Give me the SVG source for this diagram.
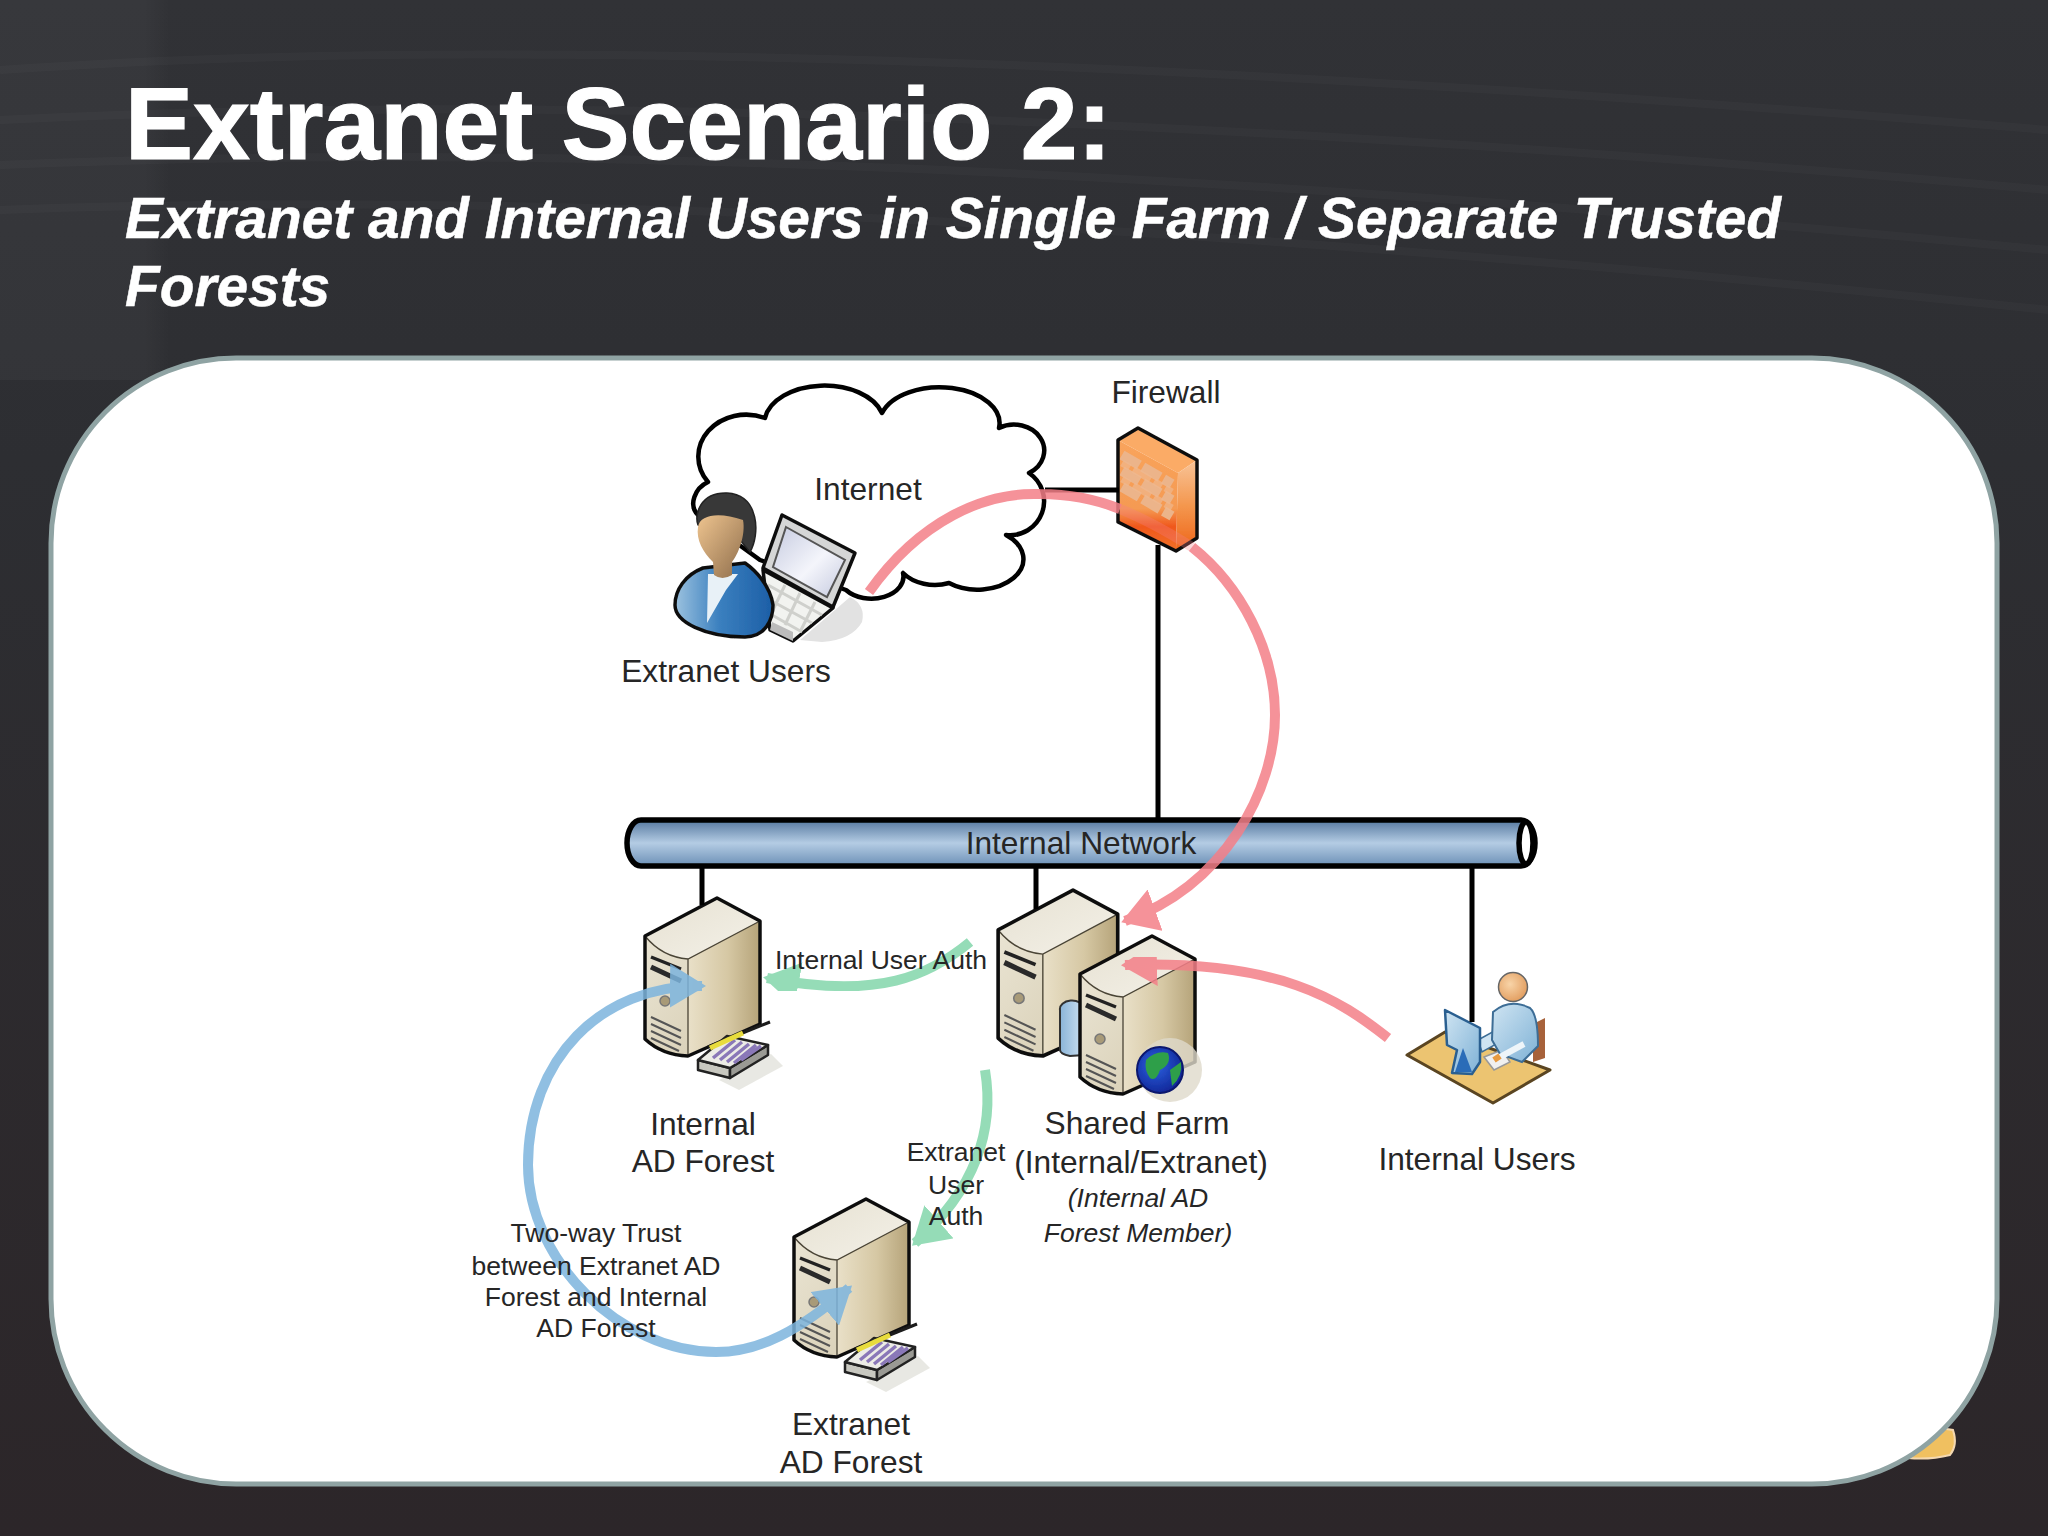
<svg xmlns="http://www.w3.org/2000/svg" width="2048" height="1536" viewBox="0 0 2048 1536">
<style>
text{font-family:"Liberation Sans",Arial,sans-serif;fill:#262626;text-anchor:middle}
.l{font-size:31.7px}.s{font-size:26.5px}.i{font-size:26.5px;font-style:italic}
.t{fill:#fff;text-anchor:start;font-weight:bold;stroke:#fff}
.h1{font-size:102px;stroke-width:1.2px}
.sub{font-size:56.8px;font-style:italic;stroke-width:.5px}
.cable{stroke:#000;stroke-width:5;fill:none}
.arc{fill:none;stroke-width:10;opacity:.85;filter:url(#soft)}
.r{stroke:#f47f88}.g{stroke:#83d6ab}.b{stroke:#7db5de}
.o{stroke:#111;stroke-width:3.5;stroke-linejoin:round}
.e{stroke:#4a4436;stroke-width:1.3;fill:none}
.art{filter:url(#soft)}
</style>
<defs>
<filter id="soft" x="-10%" y="-10%" width="120%" height="120%"><feGaussianBlur stdDeviation=".7"/></filter>
<linearGradient id="bg" x1="0" y1="0" x2="0" y2="1"><stop offset="0" stop-color="#313236"/><stop offset=".3" stop-color="#2d2e32"/><stop offset="1" stop-color="#2c2629"/></linearGradient>
<linearGradient id="band" x1="0" y1="0" x2="1" y2="0"><stop offset="0" stop-color="#fff" stop-opacity=".03"/><stop offset=".85" stop-color="#fff" stop-opacity=".03"/><stop offset="1" stop-color="#fff" stop-opacity="0"/></linearGradient>
<linearGradient id="topf" x1="0" y1="0" x2="1" y2="1"><stop offset="0" stop-color="#e6e1d2"/><stop offset="1" stop-color="#f4f1e8"/></linearGradient>
<linearGradient id="leftf" x1="0" y1="0" x2="1" y2="1"><stop offset="0" stop-color="#ede8d8"/><stop offset="1" stop-color="#d2c8ac"/></linearGradient>
<linearGradient id="rightf" x1="0" y1="0" x2="1" y2="0"><stop offset="0" stop-color="#e9e0c8"/><stop offset=".55" stop-color="#d6c8a4"/><stop offset="1" stop-color="#b5a379"/></linearGradient>
<linearGradient id="pipe" x1="0" y1="0" x2="0" y2="1"><stop offset="0" stop-color="#55789f"/><stop offset=".5" stop-color="#b4cce4"/><stop offset="1" stop-color="#6c90b6"/></linearGradient>
<linearGradient id="fire" x1="0" y1="0" x2="0" y2="1"><stop offset="0" stop-color="#f9a45c"/><stop offset=".62" stop-color="#f59a52"/><stop offset=".78" stop-color="#f0581c"/><stop offset="1" stop-color="#f07028"/></linearGradient>
<linearGradient id="fire2" x1="0" y1="0" x2="0" y2="1"><stop offset="0" stop-color="#f8c498"/><stop offset=".5" stop-color="#f4974e"/><stop offset="1" stop-color="#ee6418"/></linearGradient>
<linearGradient id="blue" x1="0" y1="0" x2="1" y2="0"><stop offset="0" stop-color="#9cc2df"/><stop offset=".45" stop-color="#3b80bf"/><stop offset="1" stop-color="#1c5ea6"/></linearGradient>
<linearGradient id="skin" x1="0" y1="0" x2="1" y2="1"><stop offset="0" stop-color="#eec48f"/><stop offset="1" stop-color="#8f6e4c"/></linearGradient>
<linearGradient id="screen" x1="0" y1="0" x2="1" y2="1"><stop offset="0" stop-color="#c6cbe0"/><stop offset=".55" stop-color="#f4f5fb"/><stop offset="1" stop-color="#c4c9de"/></linearGradient>
<linearGradient id="lblue" x1="0" y1="0" x2="1" y2="1"><stop offset="0" stop-color="#cfe4f2"/><stop offset="1" stop-color="#7fb2d6"/></linearGradient>
<linearGradient id="cyl" x1="0" y1="0" x2="1" y2="0"><stop offset="0" stop-color="#8ab4d8"/><stop offset="1" stop-color="#cfe2f2"/></linearGradient>
<radialGradient id="globe" cx=".4" cy=".4" r=".7"><stop offset="0" stop-color="#2c62e0"/><stop offset="1" stop-color="#0e1f90"/></radialGradient>
<radialGradient id="head" cx=".4" cy=".4" r=".7"><stop offset="0" stop-color="#f8d4a8"/><stop offset="1" stop-color="#e09858"/></radialGradient>
<marker id="ar" markerUnits="userSpaceOnUse" viewBox="0 0 36 44" refX="32" refY="22" markerWidth="36" markerHeight="44" orient="auto-start-reverse"><path d="M0 0L36 22L0 44Z" fill="#f47f88"/></marker>
<marker id="ag" markerUnits="userSpaceOnUse" viewBox="0 0 36 44" refX="32" refY="22" markerWidth="36" markerHeight="44" orient="auto-start-reverse"><path d="M0 0L36 22L0 44Z" fill="#83d6ab"/></marker>
<marker id="ab" markerUnits="userSpaceOnUse" viewBox="0 0 36 44" refX="32" refY="22" markerWidth="36" markerHeight="44" orient="auto-start-reverse"><path d="M0 0L36 22L0 44Z" fill="#7db5de"/></marker>
<g id="server">
<path d="M0 1L43 24L43 127L-29 159Q-55 158-72 142L-72 39Z" fill="url(#leftf)"/>
<path d="M-72 39L0 1L43 24L-29 62Q-55 60-72 39Z" fill="url(#topf)"/>
<path d="M-29 62L43 24L43 127L-29 159Z" fill="url(#rightf)"/>
<path class="e" d="M-72 39Q-55 60-29 62L43 24M-29 62V159"/>
<path class="o" fill="none" d="M0 1L43 24L43 127L-29 159Q-55 158-72 142L-72 39Z"/>
<path d="M-66 60L-36 72" stroke="#222" stroke-width="3.5" fill="none"/>
<path d="M-66 70L-36 84" stroke="#2a2a2a" stroke-width="5" fill="none"/>
<circle cx="-52" cy="104" r="5" fill="#a89a78" stroke="#777" stroke-width="1.5"/>
<path d="M-66 120L-36 134M-66 127L-36 141M-66 134L-36 148M-66 141L-38 154" stroke="#555" stroke-width="2" fill="none"/>
</g>
<g id="device">
<path d="M20 62L72 36L84 48L40 72Z" fill="#d8d8d0" opacity=".6"/>
<path d="M-1 42L31 50L31 60L-1 52Z" fill="#c8c8c0" stroke="#222" stroke-width="2.5" stroke-linejoin="round"/>
<path d="M31 50L69 27L69 37L31 60Z" fill="#9a9a94" stroke="#222" stroke-width="2.5" stroke-linejoin="round"/>
<path d="M-1 42L28 18L69 27L31 50Z" fill="#ecece6" stroke="#222" stroke-width="2.5" stroke-linejoin="round"/>
<path d="M14 40L36 22M21 42L43 24M28 44L50 26M35 45L57 27M42 42L62 28" stroke="#8a78b8" stroke-width="3.5"/>
<path d="M9 29L71 4" stroke="#1a1a1a" stroke-width="3"/>
<path d="M11 30L44 15" stroke="#e8dc3c" stroke-width="5"/>
</g>
</defs>
<rect id="background" width="2048" height="1536" fill="url(#bg)"/>
<g id="bgstreaks" fill="none" stroke="#fff" opacity=".02">
<path d="M0 70Q700 20 2048 130" stroke-width="8"/>
<path d="M0 120Q800 80 2048 190" stroke-width="8"/>
<path d="M0 165Q800 130 2048 250" stroke-width="8"/>
<path d="M0 210Q800 180 2048 310" stroke-width="8"/>
</g>
<rect id="bgband" x="0" y="0" width="170" height="380" fill="url(#band)"/>
<path id="logo" d="M1908 1458L1940 1428L1953 1430Q1958 1445 1950 1455Q1930 1460 1908 1458Z" fill="#f0c060" stroke="#f4d8b0" stroke-width="2"/>
<rect id="panel" x="51" y="358" width="1946" height="1126" rx="185" ry="185" fill="#fff" stroke="#8fa3a3" stroke-width="5"/>
<g id="title">
<text class="t h1" x="125" y="159">Extranet Scenario 2:</text>
<text class="t sub" x="125" y="238">Extranet and Internal Users in Single Farm / Separate Trusted</text>
<text class="t sub" x="125" y="306">Forests</text>
</g>
<g id="extranet-shadow"><path class="art" d="M835 610L850 597Q866 605 862 622Q852 640 822 642L800 640Z" fill="#e2e2e2"/></g>
<g id="internet">
<path class="art" d="M698 515C688 505 695 488 708 482A48 42 0 0 1 765 418A60 38 0 0 1 882 413A60 36 0 0 1 999 428A28 24 0 0 1 1029 473A34 34 0 0 1 1006 535A45 30 0 0 1 949 583A40 30 0 0 1 903 573A32 22 0 0 1 846 590L760 560Z" fill="#fff" stroke="#000" stroke-width="4.5" stroke-linejoin="round"/>
<text class="l" x="868" y="500">Internet</text>
</g>
<g id="extranet-users">
<g class="art">
<path class="o" d="M763 570L833 608L793 641L770 630Z" fill="#f2f3f0"/>
<path d="M768 585L822 615M770 600L812 623M772 615L802 632M785 585L772 612M800 593L785 625M815 602L800 632" stroke="#cfd0cc" stroke-width="3"/>
<path d="M770 630L793 641L793 632L772 622Z" fill="#bbb"/>
<path class="o" d="M782 515L855 553L833 607L763 568Z" fill="#d5d6d6"/>
<path d="M786 527L845 560L827 597L773 567Z" fill="url(#screen)" stroke="#555" stroke-width="2"/>
<path d="M727 493C700 492 694 515 698 525L740 540L750 552C760 535 760 495 727 493Z" fill="#383838" stroke="#222" stroke-width="1.5"/>
<path class="o" stroke-width="3" d="M703 568C685 575 675 590 675 605C675 622 705 637 745 637C765 637 773 620 773 605C770 585 755 570 745 563Z" fill="url(#blue)"/>
<path d="M708 574L738 574L726 590L707 623Z" fill="#e8f1f7"/>
<path d="M698 527C700 514 720 512 743 520C746 535 738 555 732 562L732 575Q722 581 714 575L713 562C703 552 696 540 698 527Z" fill="url(#skin)"/>
</g>
<text class="l" x="726" y="682">Extranet Users</text>
</g>
<g id="firewall">
<g class="art">
<path d="M1118 440L1138 428L1197 460L1178 473Z" fill="#fbab66"/>
<path d="M1118 440L1178 473L1176 551L1118 522Z" fill="url(#fire)"/>
<path d="M1178 473L1197 460L1197 538L1176 551Z" fill="url(#fire2)"/>
<path d="M1122 455L1172 484M1122 471L1172 500M1122 487L1172 516" stroke="#ecb48a" stroke-width="10" stroke-dasharray="20 4" fill="none"/>
<path d="M1122 463L1172 492M1122 479L1172 508" stroke="#efb88e" stroke-width="7" stroke-dasharray="9 4 20 4" fill="none" opacity=".7"/>
<path class="o" fill="none" d="M1118 440L1138 428L1197 460L1197 538L1176 551L1118 522Z"/>
</g>
<text class="l" x="1166" y="403">Firewall</text>
</g>
<g id="internal-network">
<g class="art">
<rect x="627" y="820" width="908" height="46" rx="14" ry="23" fill="url(#pipe)" stroke="#000" stroke-width="5.5"/>
<ellipse cx="1526" cy="843" rx="7" ry="21" fill="#fff" stroke="#000" stroke-width="5.5"/>
</g>
<text class="l" x="1081" y="854">Internal Network</text>
</g>
<g id="internal-ad">
<g class="art">
<use href="#server" x="717" y="897"/>
<use href="#device" x="699" y="1018"/>
</g>
<text class="l" x="703" y="1135">Internal</text>
<text class="l" x="703" y="1172">AD Forest</text>
</g>
<g id="shared-farm">
<g class="art">
<use href="#server" transform="translate(1073 889) scale(1.04 1.05)"/>
<path d="M1060 1010A10 7 0 0 1 1084 1008L1084 1055L1070 1056Q1060 1054 1060 1050Z" fill="url(#cyl)" stroke="#333" stroke-width="2"/>
<use href="#server" x="1152" y="935"/>
<circle cx="1170" cy="1070" r="32" fill="#dfd9ca" opacity=".8"/>
<circle cx="1160" cy="1070" r="23" fill="url(#globe)" stroke="#08186e" stroke-width="2"/>
<path d="M1146 1060Q1156 1050 1168 1053Q1172 1064 1160 1070Q1156 1082 1150 1078Q1144 1070 1146 1060ZM1170 1070L1181 1062Q1183 1076 1172 1086Z" fill="#2f9f48"/>
</g>
<text class="l" x="1137" y="1134">Shared Farm</text>
<text class="l" x="1141" y="1173">(Internal/Extranet)</text>
<text class="i" x="1138" y="1207">(Internal AD</text>
<text class="i" x="1138" y="1242">Forest Member)</text>
</g>
<g id="internal-users">
<g class="art">
<path d="M1533 1024L1545 1018L1545 1058L1533 1062Z" fill="#a7623a"/>
<path d="M1407 1055L1445 1032L1550 1070L1493 1103Z" fill="#ecc471" stroke="#5a4520" stroke-width="3" stroke-linejoin="round"/>
<path d="M1478 1040L1496 1030L1500 1042L1482 1052Z" fill="#cfe4f2" stroke="#3c6d96" stroke-width="1.5"/>
<path d="M1484 1057L1502 1050L1510 1062L1494 1070Z" fill="#f0f0f0" stroke="#999" stroke-width="1.5"/>
<path d="M1493 1012Q1510 998 1530 1008Q1538 1015 1538 1046L1522 1062L1500 1054L1492 1040Z" fill="url(#lblue)" stroke="#3c6d96" stroke-width="2"/>
<path d="M1524 1044L1500 1057" stroke="#eef5f9" stroke-width="6"/>
<path d="M1500 1056L1494 1060" stroke="#e89a40" stroke-width="6"/>
<circle cx="1513" cy="987" r="14.5" fill="url(#head)" stroke="#666" stroke-width="1.5"/>
<path d="M1445 1010L1480 1028L1480 1062L1472 1074L1452 1073L1457 1050L1447 1045Z" fill="url(#lblue)" stroke="#2a5f90" stroke-width="2.5" stroke-linejoin="round"/>
<path d="M1455 1072L1463 1048L1472 1072Z" fill="#2b6cb8"/>
</g>
<text class="l" x="1477" y="1170">Internal Users</text>
</g>
<g id="extranet-ad">
<g class="art">
<use href="#server" x="866" y="1198"/>
<use href="#device" x="846" y="1320"/>
</g>
<text class="l" x="851" y="1435">Extranet</text>
<text class="l" x="851" y="1473">AD Forest</text>
</g>
<g id="connectors">
<path class="cable" d="M1045 490H1119M1158 545V819M702 868V905M1036 868V909M1472 868V1022"/>
<path class="arc r" d="M869 592C920 520 985 492 1040 494C1070 494 1095 499 1120 509"/>
<path class="arc r" d="M1120 509C1140 517 1165 530 1192 547" style="opacity:.3"/>
<path class="arc r" d="M1192 547C1240 585 1275 650 1275 715C1275 790 1225 885 1125 921" marker-end="url(#ar)"/>
<path class="arc r" d="M1388 1038C1340 1000 1280 960 1125 965" marker-end="url(#ar)"/>
<path class="arc g" d="M970 942C930 975 880 1000 767 978" marker-end="url(#ag)"/>
<path class="arc g" d="M985 1070C995 1130 975 1190 915 1243" marker-end="url(#ag)"/>
<path class="arc b" d="M702 986C600 985 528 1060 528 1165C528 1260 620 1352 716 1352C760 1352 800 1330 849 1288" marker-start="url(#ab)" marker-end="url(#ab)"/>
</g>
<g id="connector-labels">
<text class="s" x="881" y="969">Internal User Auth</text>
<text class="s" x="956" y="1161">Extranet</text>
<text class="s" x="956" y="1194">User</text>
<text class="s" x="956" y="1225">Auth</text>
<text class="s" x="596" y="1242">Two-way Trust</text>
<text class="s" x="596" y="1275">between Extranet AD</text>
<text class="s" x="596" y="1306">Forest and Internal</text>
<text class="s" x="596" y="1337">AD Forest</text>
</g>
</svg>
